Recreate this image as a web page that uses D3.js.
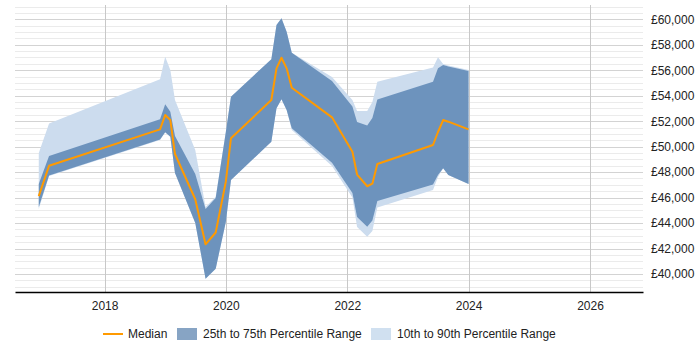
<!DOCTYPE html>
<html>
<head>
<meta charset="utf-8">
<script src="https://cdn.jsdelivr.net/npm/d3@7"></script>
<style>
  body { margin: 0; background: #fff; }
  text { font-family: Arial, "Liberation Sans", sans-serif; }
</style>
</head>
<body>
<div id="grafica"></div>
<script>
// data (monthly points)
var months = ["2016-12","2017-02","2018-12","2019-01","2019-02","2019-03","2019-07","2019-09","2019-11",
              "2020-01","2020-02","2020-10","2020-11","2020-12","2021-01","2021-02","2021-10","2022-02",
              "2022-03","2022-05","2022-06","2022-07","2023-06","2023-07","2023-08","2023-09","2024-01"];
var p10    = [45100,47700,50520,51130,50780,47930,44000,39630,40420,44080,47380,50390,53010,53720,52880,51310,
              48480,46010,43690,42930,43380,45220,46600,47620,48300,47770,47070];
var p25    = [45260,47730,50560,51130,50780,47930,44000,39630,40420,44080,47380,50390,53010,53720,52880,51440,
              48740,46360,44480,43710,44200,45730,47030,47770,48300,47770,47070];
var median = [46120,48500,51360,52480,52090,49420,45870,42330,43260,47250,50660,53660,56150,56980,56150,54630,
              52300,49600,47810,46890,47090,48640,50130,51150,52090,51960,51360];
var p75    = [47070,49270,52150,53320,52740,50840,47850,45100,45970,51150,53920,56860,59550,60080,59030,57380,
              55150,53150,51930,51660,52250,53700,55100,56150,56410,56290,55940];
var p90    = [49500,51820,55290,57060,56020,53660,49740,45260,46070,51150,53920,56860,59550,60080,59030,57380,
              55470,53660,52800,52800,53510,55100,56210,57020,56490,56370,56020];
var yearTicks = [2018, 2020, 2022, 2024, 2026];
var legendLabels = ["Median", "25th to 75th Percentile Range", "10th to 90th Percentile Range"];

var w_full = 700, h_full = 350;
var margin = { top: 5, right: 57, bottom: 58, left: 15 };
var w = w_full - margin.left - margin.right,
    h = h_full - margin.top - margin.bottom;

var parseMonth = d3.timeParse("%Y-%m");
var data = months.map(function(m, i) {
    return { fecha: parseMonth(m), p10: p10[i], p25: p25[i], med: median[i], p75: p75[i], p90: p90[i] };
});

var svg = d3.select("#grafica").append("svg")
    .attr("width", w_full)
    .attr("height", h_full);
var g = svg.append("g")
    .attr("transform", "translate(" + margin.left + "," + margin.top + ")");

var x = d3.scaleTime()
    .domain([new Date(2016, 6, 11), new Date(2026, 10, 16)])
    .range([0, w]);
var y = d3.scaleLinear()
    .domain([38587, 61122])
    .range([h, 0]);

// horizontal grid, minor every 500 and major every 2000
g.append("g").selectAll("line")
    .data(d3.range(39000, 61001, 500).filter(function(v) { return v % 2000 != 0; }))
    .enter().append("line")
    .attr("x1", 0).attr("x2", w)
    .attr("y1", function(d) { return Math.round(y(d)) + 0.5; })
    .attr("y2", function(d) { return Math.round(y(d)) + 0.5; })
    .attr("stroke", "#ebebeb");
g.append("g").selectAll("line")
    .data(d3.range(40000, 61001, 2000))
    .enter().append("line")
    .attr("x1", 0).attr("x2", w)
    .attr("y1", function(d) { return Math.round(y(d)) + 0.5; })
    .attr("y2", function(d) { return Math.round(y(d)) + 0.5; })
    .attr("stroke", "#d3d3d3");

// vertical grid at years
g.append("g").selectAll("line")
    .data(yearTicks)
    .enter().append("line")
    .attr("x1", function(d) { return Math.round(x(new Date(d, 0, 1))) + 0.5; })
    .attr("x2", function(d) { return Math.round(x(new Date(d, 0, 1))) + 0.5; })
    .attr("y1", 0).attr("y2", h)
    .attr("stroke", "#c8c8c8");

// 10-90 band
g.append("path")
    .datum(data)
    .attr("fill", "#ccdcee")
    .attr("d", d3.area()
        .x(function(d) { return x(d.fecha); })
        .y0(function(d) { return y(d.p10); })
        .y1(function(d) { return y(d.p90); }));

// 25-75 band
g.append("path")
    .datum(data)
    .attr("fill", "#6d93bd")
    .attr("d", d3.area()
        .x(function(d) { return x(d.fecha); })
        .y0(function(d) { return y(d.p25); })
        .y1(function(d) { return y(d.p75); }));

// median
g.append("path")
    .datum(data)
    .attr("fill", "none")
    .attr("stroke", "#ff9a00")
    .attr("stroke-width", 2)
    .attr("stroke-linejoin", "round")
    .attr("d", d3.line()
        .x(function(d) { return x(d.fecha); })
        .y(function(d) { return y(d.med); }));

// x axis
var xAxis = g.append("g")
    .attr("transform", "translate(0," + h + ")")
    .call(d3.axisBottom(x)
        .tickValues(yearTicks.map(function(d) { return new Date(d, 0, 1); }))
        .tickFormat(d3.timeFormat("%Y"))
        .tickSize(0)
        .tickPadding(9));
xAxis.select(".domain").attr("stroke", "#000").attr("stroke-width", 1.3);
xAxis.selectAll("text").style("font-size", "12px").attr("fill", "#222")
    .style("font-family", "Arial, 'Liberation Sans', sans-serif");

// y axis on the right
var yAxis = g.append("g")
    .attr("transform", "translate(" + w + ",0)")
    .call(d3.axisRight(y)
        .tickValues(d3.range(40000, 61001, 2000))
        .tickFormat(function(d) { return "£" + d3.format(",")(d); })
        .tickSize(0)
        .tickPadding(8));
yAxis.select(".domain").remove();
yAxis.selectAll("text").style("font-size", "12px").attr("fill", "#222")
    .style("font-family", "Arial, 'Liberation Sans', sans-serif");

// Leyenda
var ly = 334;
svg.append("line")
    .attr("x1", 103).attr("x2", 123)
    .attr("y1", ly).attr("y2", ly)
    .attr("stroke", "#ff9a00").attr("stroke-width", 2);
svg.append("text").attr("x", 128).attr("y", ly).attr("dy", "0.35em")
    .style("font-size", "12px").attr("fill", "#222").text(legendLabels[0]);

svg.append("rect")
    .attr("x", 177).attr("y", ly - 6).attr("width", 20).attr("height", 12)
    .attr("fill", "#87a4c4");
svg.append("text").attr("x", 203).attr("y", ly).attr("dy", "0.35em")
    .style("font-size", "12px").attr("fill", "#222").text(legendLabels[1]);

svg.append("rect")
    .attr("x", 371).attr("y", ly - 6).attr("width", 20).attr("height", 12)
    .attr("fill", "#d0e0f0");
svg.append("text").attr("x", 397).attr("y", ly).attr("dy", "0.35em")
    .style("font-size", "12px").attr("fill", "#222").text(legendLabels[2]);
</script>
</body>
</html>
